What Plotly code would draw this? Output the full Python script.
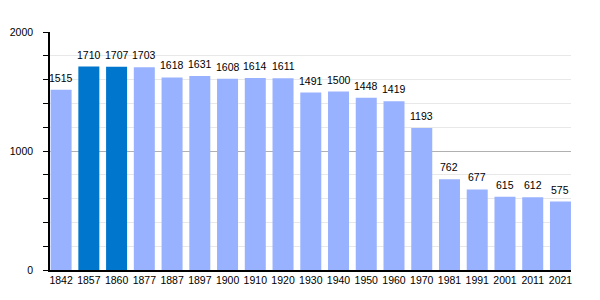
import plotly.graph_objects as go

years = ["1842", "1857", "1860", "1877", "1887", "1897", "1900", "1910", "1920",
         "1930", "1940", "1950", "1960", "1970", "1981", "1991", "2001", "2011", "2021"]
population = [1515, 1710, 1707, 1703, 1618, 1631, 1608, 1614, 1611,
              1491, 1500, 1448, 1419, 1193, 762, 677, 615, 612, 575]
highlight = ["1857", "1860"]

light = "rgb(153,178,255)"
dark = "rgb(0,119,204)"
colors = [dark if y in highlight else light for y in years]
idx = list(range(len(years)))
font_family = "Liberation Sans, Arial, sans-serif"

fig = go.Figure()
fig.add_trace(go.Bar(
    x=idx, y=population, marker_color=colors, marker_line_width=0,
    width=0.757, hoverinfo="skip",
))
for i, v in zip(idx, population):
    fig.add_annotation(x=i, y=v, text=str(v), showarrow=False, yanchor="bottom",
                       yshift=4, font=dict(size=10.5, color="black", family=font_family))

fig.update_layout(
    width=600, height=300, margin=dict(l=50, r=29, t=32, b=30),
    paper_bgcolor="white", plot_bgcolor="white", showlegend=False,
    font=dict(family=font_family, size=10.5, color="black"),
)
fig.update_xaxes(
    range=[-0.40, len(years) - 1 + 0.38], tickvals=idx, ticktext=years,
    showgrid=False, showline=True, linecolor="black", linewidth=1.5,
    ticks="", tickfont=dict(size=10.5), zeroline=False, automargin=False,
)
fig.update_yaxes(
    range=[0, 2000], tickvals=[0, 1000, 2000], showline=True, linecolor="black",
    linewidth=1.5, ticks="outside", ticklen=5, tickcolor="black",
    ticklabelstandoff=8, automargin=False,
    gridcolor="#b0b0b0", gridwidth=1, zeroline=False, tickfont=dict(size=10.5),
    minor=dict(dtick=200, showgrid=True, gridcolor="#e8e8e8", ticks="outside",
               ticklen=5, tickcolor="black"),
)
fig.write_html("out.html")
